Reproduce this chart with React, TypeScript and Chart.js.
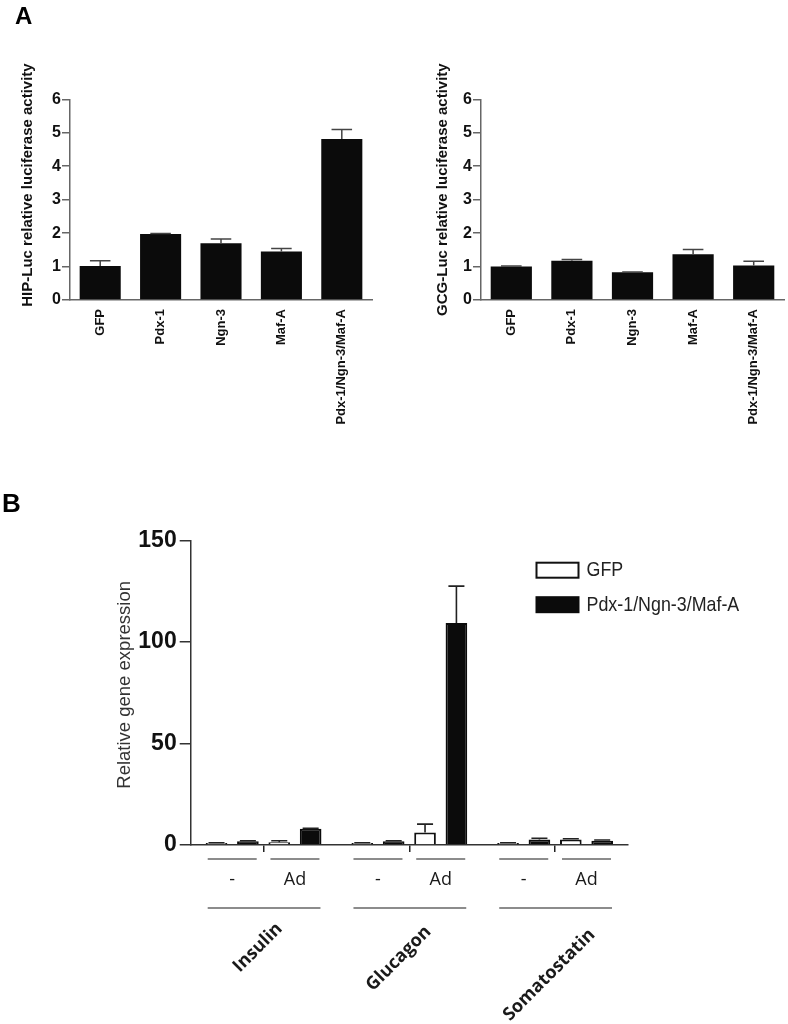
import React, { useEffect, useRef } from 'react';
import { Chart, registerables } from 'chart.js';

Chart.register(...registerables);

// ---------- Data ----------
const luciferaseCategories = ['GFP', 'Pdx-1', 'Ngn-3', 'Maf-A', 'Pdx-1/Ngn-3/Maf-A'];
const luciferaseTicks = [0, 1, 2, 3, 4, 5, 6];
const hipLucMeans = [1.02, 1.97, 1.7, 1.45, 4.81];
const hipLucSem = [0.15, 0.02, 0.12, 0.09, 0.29];
const gcgLucMeans = [1.0, 1.17, 0.83, 1.37, 1.03];
const gcgLucSem = [0.02, 0.04, 0.01, 0.14, 0.13];

const genes = ['Insulin', 'Glucagon', 'Somatostatin'];
const treatments = ['-', 'Ad'];
const legendLabels = ['GFP', 'Pdx-1/Ngn-3/Maf-A'];
const expressionTicks = [0, 50, 100, 150];
const gfpUntreated = [1.0, 1.0, 1.0];
const gfpUntreatedSem = [0.1, 0.1, 0.1];
const tripleUntreated = [1.9, 1.9, 2.7];
const tripleUntreatedSem = [0.2, 0.2, 0.6];
const gfpAd = [1.3, 6.2, 2.7];
const gfpAdSem = [0.8, 4.1, 0.4];
const tripleAd = [8.0, 109.4, 2.1];
const tripleAdSem = [0.2, 18.2, 0.4];

// ---------- Fonts ----------
const SANS = "'Liberation Sans', Arial, Helvetica, sans-serif";
const HUMANIST = "'Open Sans', 'Noto Sans', sans-serif";

Chart.defaults.font.family = SANS;

// ---------- Plugins ----------
const errorBarPlugin = {
  id: 'errorBars',
  afterDatasetsDraw(chart: any, _args: any, opts: any) {
    const ctx = chart.ctx;
    const y = chart.scales.y;
    chart.data.datasets.forEach((ds: any, di: number) => {
      if (!ds.sem) return;
      const meta = chart.getDatasetMeta(di);
      meta.data.forEach((bar: any, i: number) => {
        const top = y.getPixelForValue(ds.data[i] + ds.sem[i]);
        const half = (bar.width * opts.capRatio) / 2;
        ctx.save();
        ctx.strokeStyle = opts.color;
        ctx.lineWidth = opts.lineWidth;
        ctx.beginPath();
        ctx.moveTo(bar.x, bar.y);
        ctx.lineTo(bar.x, top);
        ctx.moveTo(bar.x - half, top);
        ctx.lineTo(bar.x + half, top);
        ctx.stroke();
        ctx.restore();
      });
    });
  },
};

const sideTitlePlugin = {
  id: 'sideTitle',
  afterDraw(chart: any, _args: any, opts: any) {
    if (!opts || !opts.text) return;
    const { ctx, chartArea } = chart;
    const x = chartArea.left - opts.dx;
    const y =
      opts.align === 'end'
        ? chartArea.top - opts.above
        : (chartArea.top + chartArea.bottom) / 2 + (opts.shift || 0);
    ctx.save();
    ctx.translate(x, y);
    ctx.rotate(-Math.PI / 2);
    ctx.font = opts.font;
    ctx.fillStyle = opts.color;
    ctx.textAlign = opts.align === 'end' ? 'right' : 'center';
    ctx.textBaseline = 'middle';
    ctx.fillText(opts.text, 0, 0);
    ctx.restore();
  },
};

const groupLabelPlugin = {
  id: 'groupLabels',
  afterDraw(chart: any, _args: any, opts: any) {
    if (!opts || !opts.genes) return;
    const { ctx, chartArea } = chart;
    const xs = chart.scales.x;
    const metas = [0, 1, 2, 3].map((i) => chart.getDatasetMeta(i));
    const b = chartArea.bottom;
    ctx.save();
    opts.genes.forEach((g: string, i: number) => {
      [[0, 1], [2, 3]].forEach(([a, c], k) => {
        const center = (metas[a].data[i].x + metas[c].data[i].x) / 2;
        ctx.strokeStyle = opts.lineColor;
        ctx.lineWidth = 1.3;
        ctx.beginPath();
        ctx.moveTo(center - 24.5, b + 14);
        ctx.lineTo(center + 24.5, b + 14);
        ctx.stroke();
        ctx.font = opts.treatFont;
        ctx.fillStyle = opts.textColor;
        ctx.textAlign = 'center';
        ctx.textBaseline = 'middle';
        ctx.fillText(opts.treatments[k], center, b + 35);
      });
      const first = metas[0].data[i];
      const last = metas[3].data[i];
      const left = first.x - first.width / 2 + 2;
      const right = last.x + last.width / 2 - 1;
      ctx.strokeStyle = opts.lineColor;
      ctx.lineWidth = 1.3;
      ctx.beginPath();
      ctx.moveTo(left, b + 63);
      ctx.lineTo(right, b + 63);
      ctx.stroke();

      const cx = xs.getPixelForValue(i);
      ctx.save();
      ctx.translate(cx + opts.shiftX[i], b + opts.shiftY[i]);
      ctx.rotate(-Math.PI / 4);
      ctx.font = opts.geneFont;
      ctx.fillStyle = opts.textColor;
      ctx.textAlign = 'right';
      ctx.textBaseline = 'middle';
      ctx.fillText(g, 0, 0);
      ctx.restore();
    });
    ctx.restore();
  },
};

const boxLegendPlugin = {
  id: 'boxLegend',
  afterDraw(chart: any, _args: any, opts: any) {
    if (!opts || !opts.labels) return;
    const { ctx, chartArea } = chart;
    const bx = chartArea.right - 92.5;
    ctx.save();
    opts.labels.forEach((label: string, i: number) => {
      const by = chartArea.top + opts.rows[i];
      if (opts.fills[i] === '#ffffff') {
        ctx.fillStyle = '#ffffff';
        ctx.fillRect(bx, by, 44, 17);
        ctx.strokeStyle = '#111';
        ctx.lineWidth = 2;
        ctx.strokeRect(bx + 1, by + 1, 42, 15);
      } else {
        ctx.fillStyle = opts.fills[i];
        ctx.fillRect(bx, by, 44, 17);
      }
      ctx.save();
      ctx.translate(bx + 51, by + 9);
      ctx.scale(opts.condense, 1);
      ctx.font = opts.font;
      ctx.fillStyle = opts.color;
      ctx.textAlign = 'left';
      ctx.textBaseline = 'middle';
      ctx.fillText(label, 0, 0);
      ctx.restore();
    });
    ctx.restore();
  },
};

// ---------- Configs ----------
function luciferaseConfig(means: number[], sem: number[], title: string, o: any) {
  return {
    type: 'bar',
    data: {
      labels: luciferaseCategories,
      datasets: [
        {
          data: means,
          sem,
          backgroundColor: '#0b0b0b',
          borderWidth: 0,
          barPercentage: 0.68,
          categoryPercentage: 1,
        },
      ],
    },
    options: {
      responsive: false,
      animation: false,
      devicePixelRatio: 1,
      layout: { padding: { top: 99.3, right: o.padRight, left: 0, bottom: 0 } },
      plugins: {
        legend: { display: false },
        tooltip: { enabled: false },
        errorBars: { capRatio: 0.5, color: '#444', lineWidth: 1.5 },
        sideTitle: {
          text: title,
          dx: o.titleDx,
          above: 36,
          align: 'end',
          font: 'bold 15px ' + SANS,
          color: '#111',
        },
      },
      scales: {
        x: {
          type: 'category',
          afterFit: (s: any) => {
            s.height = 140;
          },
          grid: { display: true, drawOnChartArea: false, drawTicks: false },
          border: { display: true, color: '#666', width: 1.5 },
          ticks: {
            autoSkip: false,
            minRotation: 90,
            maxRotation: 90,
            padding: 9,
            color: '#111',
            font: { family: SANS, size: 13, weight: 'bold' },
          },
        },
        y: {
          min: 0,
          max: 6,
          afterFit: (s: any) => {
            s.width = o.yWidth;
          },
          afterBuildTicks: (s: any) => {
            s.ticks = luciferaseTicks.map((v) => ({ value: v }));
          },
          grid: {
            display: true,
            drawOnChartArea: false,
            drawTicks: true,
            tickLength: 8,
            color: '#666',
            lineWidth: 1.5,
          },
          border: { display: true, color: '#666', width: 1.5 },
          ticks: {
            padding: 1,
            color: '#111',
            font: { family: SANS, size: 16, weight: 'bold' },
          },
        },
      },
    },
    plugins: [errorBarPlugin, sideTitlePlugin],
  };
}

function expressionConfig() {
  const common = { barPercentage: 0.69, categoryPercentage: 0.861, borderWidth: 2 };
  return {
    type: 'bar',
    data: {
      labels: genes,
      datasets: [
        { ...common, label: 'GFP -', data: gfpUntreated, sem: gfpUntreatedSem, backgroundColor: '#ffffff', borderColor: '#111' },
        { ...common, label: 'Pdx-1/Ngn-3/Maf-A -', data: tripleUntreated, sem: tripleUntreatedSem, backgroundColor: '#0b0b0b', borderColor: '#0b0b0b' },
        { ...common, label: 'GFP Ad', data: gfpAd, sem: gfpAdSem, backgroundColor: '#ffffff', borderColor: '#111' },
        { ...common, label: 'Pdx-1/Ngn-3/Maf-A Ad', data: tripleAd, sem: tripleAdSem, backgroundColor: '#0b0b0b', borderColor: '#0b0b0b' },
      ],
    },
    options: {
      responsive: false,
      animation: false,
      devicePixelRatio: 1,
      layout: { padding: { top: 40.7, right: 160, left: 0, bottom: 0 } },
      plugins: {
        legend: { display: false },
        tooltip: { enabled: false },
        errorBars: { capRatio: 0.74, color: '#222', lineWidth: 1.6 },
        sideTitle: {
          text: 'Relative gene expression',
          dx: 65.7,
          shift: -8,
          align: 'center',
          font: '18.5px ' + SANS,
          color: '#333',
        },
        groupLabels: {
          genes,
          treatments,
          lineColor: '#666',
          textColor: '#1a1a1a',
          treatFont: '18px ' + HUMANIST,
          geneFont: 'bold 18px ' + HUMANIST,
          shiftX: [16, 19, 37],
          shiftY: [81, 84, 87],
        },
        boxLegend: {
          labels: legendLabels,
          fills: ['#ffffff', '#0b0b0b'],
          rows: [21, 55.5],
          font: '21px ' + SANS,
          condense: 0.85,
          color: '#222',
        },
      },
      scales: {
        x: {
          type: 'category',
          afterFit: (s: any) => {
            s.height = 179;
          },
          grid: {
            display: true,
            drawOnChartArea: false,
            drawTicks: true,
            tickLength: 7,
            offset: false,
            color: '#222',
            lineWidth: 1.5,
          },
          border: { display: true, color: '#333', width: 1.5 },
          ticks: { display: false },
        },
        y: {
          min: 0,
          max: 150,
          afterFit: (s: any) => {
            s.width = 190.7;
          },
          afterBuildTicks: (s: any) => {
            s.ticks = expressionTicks.map((v) => ({ value: v }));
          },
          grid: {
            display: true,
            drawOnChartArea: false,
            drawTicks: true,
            tickLength: 11,
            color: '#333',
            lineWidth: 1.5,
          },
          border: { display: true, color: '#333', width: 1.5 },
          ticks: {
            padding: 3,
            color: '#111',
            font: { family: SANS, size: 23, weight: 'bold' },
          },
        },
      },
    },
    plugins: [errorBarPlugin, sideTitlePlugin, groupLabelPlugin, boxLegendPlugin],
  };
}

// ---------- Components ----------
function ChartCanvas({ make, left, top, width, height }: any) {
  const ref = useRef<HTMLCanvasElement | null>(null);
  useEffect(() => {
    if (!ref.current) return;
    const chart = new Chart(ref.current, make() as any);
    return () => chart.destroy();
  }, []);
  return (
    <div style={{ position: 'absolute', left, top, width, height }}>
      <canvas ref={ref} width={width} height={height} style={{ width, height, display: 'block' }} />
    </div>
  );
}

export default function App() {
  return (
    <div
      style={{
        position: 'absolute',
        left: 0,
        top: 0,
        width: 788,
        height: 1024,
        background: '#ffffff',
        overflow: 'hidden',
      }}
    >
      <ChartCanvas
        make={() => luciferaseConfig(hipLucMeans, hipLucSem, 'HIP-Luc relative luciferase activity', { padRight: 22, yWidth: 70, titleDx: 42 })}
        left={0}
        top={0}
        width={394}
        height={440}
      />
      <ChartCanvas
        make={() => luciferaseConfig(gcgLucMeans, gcgLucSem, 'GCG-Luc relative luciferase activity', { padRight: 4, yWidth: 87, titleDx: 38.5 })}
        left={394}
        top={0}
        width={394}
        height={440}
      />
      <ChartCanvas make={expressionConfig} left={0} top={500} width={788} height={524} />
      <div
        style={{
          position: 'absolute',
          left: 15,
          top: 4,
          font: 'bold 24px ' + SANS,
          lineHeight: '24px',
          color: '#000',
        }}
      >
        A
      </div>
      <div
        style={{
          position: 'absolute',
          left: 2,
          top: 490,
          font: 'bold 26px ' + SANS,
          lineHeight: '26px',
          color: '#000',
        }}
      >
        B
      </div>
    </div>
  );
}
